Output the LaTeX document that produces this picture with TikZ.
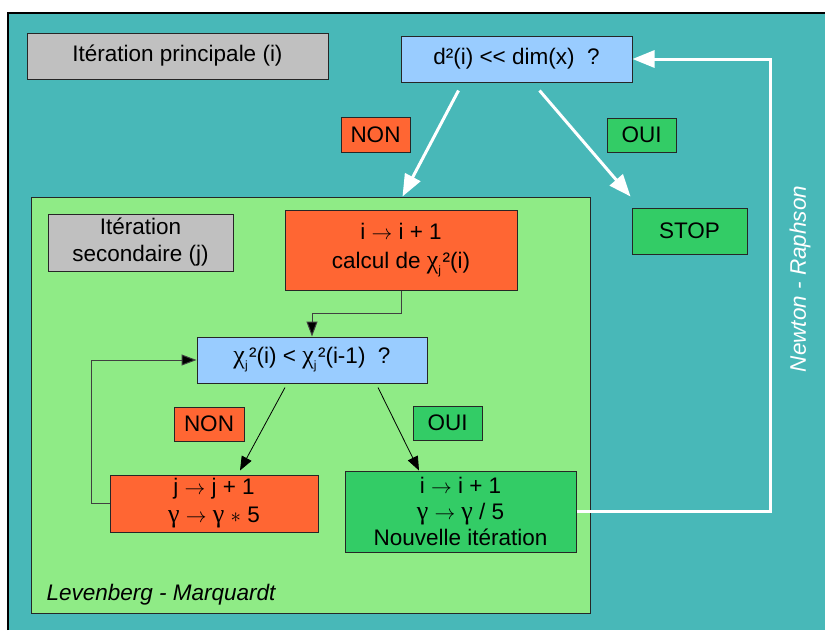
\documentclass[tikz,border=0pt]{standalone}
\usepackage{fontspec}
\setmainfont{Liberation Sans}
\newfontfamily\grk{Liberation Serif}
\usetikzlibrary{arrows.meta}
\definecolor{tealbg}{RGB}{72,184,184}
\definecolor{lgreen}{RGB}{143,235,134}
\definecolor{boxgray}{RGB}{192,192,192}
\definecolor{boxblue}{RGB}{153,204,255}
\definecolor{boxorange}{RGB}{255,102,51}
\definecolor{boxgreen}{RGB}{51,204,102}
\newcommand{\gk}[1]{{\grk\fontsize{26}{27}\selectfont #1}}
\newcommand{\chij}{\gk{χ}\raisebox{-6pt}{\fontsize{12}{12}\selectfont j}\kern1.5pt²}
\newcommand{\ar}{$\rightarrow$}
\tikzset{
  box/.style={draw=black!85, line width=1pt, inner sep=0pt, align=center},
  wa/.style={draw=white, line width=3pt, -{Triangle[length=22pt,width=17pt]}},
  ba/.style={draw=black, line width=0.8pt, -{Triangle[length=14pt,width=11pt]}},
  conn/.style={draw=black!75, line width=1pt, -{Triangle[length=15pt,width=11pt,fill=black]}}
}
\begin{document}
\begin{tikzpicture}[x=1pt,y=-1pt,font=\fontsize{22.5}{27}\selectfont]
\useasboundingbox (0,0) rectangle (825,630);
\fill[white] (0,0) rectangle (825,630);
\fill[tealbg] (8,13) rectangle (825,630);
\draw[line width=2pt] (8,630) -- (8,13) -- (825,13);

% top level
\node[box, fill=boxgray, minimum width=301pt, minimum height=46pt] (princ) at (177.5,56) {Itération principale (i)};
\node[box, fill=boxblue, minimum width=231pt, minimum height=46pt] (q1) at (516.5,59) {d²(i) <\kern0pt< dim(x)\ \ ?};
\node[box, fill=boxorange, minimum width=69pt, minimum height=35pt] (non1) at (375.5,134.5) {NON};
\node[box, fill=boxgreen, minimum width=69pt, minimum height=34pt] (oui1) at (641.5,135) {OUI};
\node[box, fill=boxgreen, minimum width=115pt, minimum height=46pt] (stop) at (689.5,231) {STOP};

% Levenberg-Marquardt region
\node[box, fill=lgreen, minimum width=559pt, minimum height=416pt] (lm) at (310.5,405) {};
\node[anchor=base west, font=\fontsize{22.5}{27}\selectfont\itshape] (lmlabel) at (43,600) {Levenberg - Marquardt};
\node[box, fill=boxgray, minimum width=185pt, minimum height=57pt] (sec) at (140.5,242.5) {Itération\\secondaire (j)};
\node[box, fill=boxorange, minimum width=232pt, minimum height=80pt, font=\fontsize{22.5}{29}\selectfont] (calc) at (401,250) {i \ar{} i + 1\\calcul de \chij(i)};
\node[box, fill=boxblue, minimum width=230pt, minimum height=46pt] (q2) at (312,360) {\chij(i) < \chij(i-1)\ \ ?};
\node[box, fill=boxorange, minimum width=70pt, minimum height=34pt] (non2) at (209,424) {NON};
\node[box, fill=boxgreen, minimum width=69pt, minimum height=34pt] (oui2) at (447.5,423) {OUI};
\node[box, fill=boxorange, minimum width=208pt, minimum height=57pt, font=\fontsize{22.5}{28}\selectfont] (jbox) at (214,503.5) {j \ar{} j + 1\\\gk{γ} \ar{} \gk{γ} $\ast$ 5};
\node[box, fill=boxgreen, minimum width=231pt, minimum height=81pt, font=\fontsize{22.5}{26}\selectfont] (newit) at (460.5,511.5) {i \ar{} i + 1\\\gk{γ} \ar{} \gk{γ} / 5\\Nouvelle itération};

% Newton-Raphson label
\node[rotate=90, text=white, font=\fontsize{22.5}{27}\selectfont\itshape] (nr) at (800,279) {Newton - Raphson};

% white arrows
\draw[wa] ([xshift=-58pt,yshift=-8pt]q1.south) -- ([xshift=372pt]lm.north west);
\draw[wa] ([xshift=23pt,yshift=-8pt]q1.south) -- ([xshift=-1pt,yshift=11pt]stop.north west);
\draw[wa] (newit.east) -- ++(194,0) |- (q1.east);

% inner connectors
\draw[conn] (calc.south) -- ++(0,23) -| (q2.north);
\draw[conn] (jbox.west) -- ++(-18,0) |- (q2.west);
\draw[ba] ([xshift=-27pt,yshift=-4pt]q2.south) -- ([xshift=26pt,yshift=4pt]jbox.north);
\draw[ba] ([xshift=66pt,yshift=-4pt]q2.south) -- ([xshift=-41.5pt]newit.north);
\end{tikzpicture}
\end{document}
